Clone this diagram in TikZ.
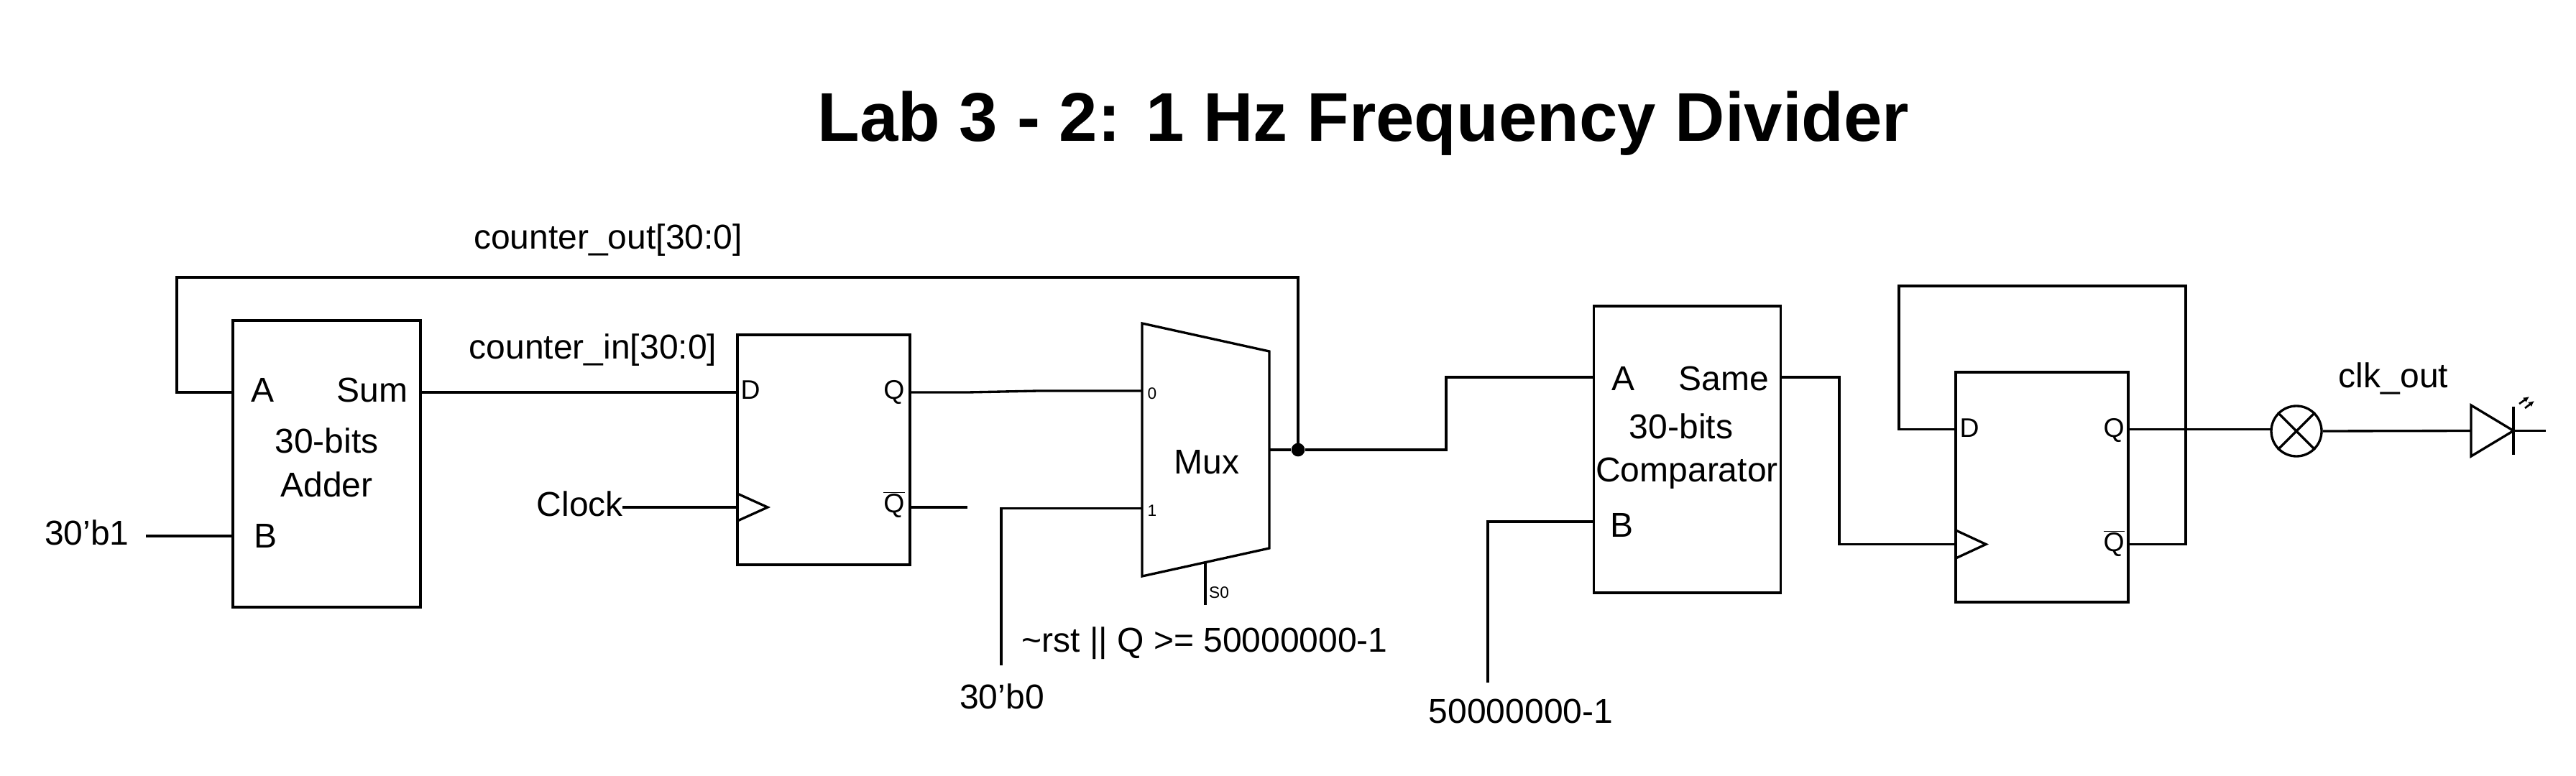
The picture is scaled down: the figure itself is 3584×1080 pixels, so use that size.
\documentclass[tikz,border=0pt]{standalone}
\usepackage{fontspec}
\setmainfont{Liberation Sans}
\usetikzlibrary{arrows.meta}

\tikzset{
	wire/.style={line width=2.5pt,line join=miter},
	blockbox/.style={draw,line width=2.5pt,inner sep=0pt},
	lbl/.style={anchor=base,inner sep=0pt,font=\fontsize{36}{40}\selectfont},
	pinlbl/.style={anchor=base,inner sep=0pt,font=\fontsize{28}{32}\selectfont},
	tinylbl/.style={anchor=base,inner sep=0pt,font=\fontsize{17}{20}\selectfont},
}

\begin{document}
\begin{tikzpicture}[x=0.75pt,y=0.75pt,yscale=-1,xscale=1]
	\useasboundingbox (0,0) rectangle (3584,1080);
	
	% Title
	\node (title) [anchor=base,inner sep=0pt,font=\fontsize{72}{80}\selectfont\bfseries] at (1897,197) {Lab 3 - 2: 1 Hz Frequency Divider};
	
	% Blocks
	\node (adder) [blockbox,minimum width=195.75pt,minimum height=299.25pt] at (454.5,645.5) {};
	\node (ffone) [blockbox,minimum width=180pt,minimum height=240pt] at (1146,626) {};
	\node (cmp) [blockbox,minimum width=194.6pt,minimum height=299.25pt] at (2347.5,625.5) {};
	\node (fftwo) [blockbox,minimum width=180pt,minimum height=240pt] at (2841,678) {};
	
	% Mux outline
	\coordinate (muxlt) at (1589,450);
	\coordinate (muxrt) at (1766,489);
	\coordinate (muxrb) at (1766,763);
	\coordinate (muxlb) at (1589,802);
	\draw [wire] (muxlt) -- (muxrt) -- (muxrb) -- (muxlb) -- cycle;
	
	% Pins
	\coordinate (adderA) at (adder.west |- 0,546);
	\coordinate (adderB) at (adder.west |- 0,746);
	\coordinate (adderSum) at (adder.east |- 0,546);
	\coordinate (ffoneD) at (ffone.west |- 0,546);
	\coordinate (ffoneClk) at (ffone.west |- 0,706);
	\coordinate (ffoneQ) at (ffone.east |- 0,546);
	\coordinate (ffoneQn) at (ffone.east |- 0,706);
	\coordinate (muxzero) at (1589,544);
	\coordinate (muxone) at (1589,707.5);
	\coordinate (muxout) at (1766,626);
	\coordinate (muxsel) at (1677,782);
	\coordinate (cmpA) at (cmp.west |- 0,525);
	\coordinate (cmpB) at (cmp.west |- 0,726);
	\coordinate (cmpSame) at (cmp.east |- 0,525);
	\coordinate (fftwoD) at (fftwo.west |- 0,597.5);
	\coordinate (fftwoClk) at (fftwo.west |- 0,757.5);
	\coordinate (fftwoQ) at (fftwo.east |- 0,597.5);
	\coordinate (fftwoQn) at (fftwo.east |- 0,757.5);
	
	% Free ends
	\coordinate (bitoneend) at (203,746);
	\coordinate (clockend) at (866,706);
	\coordinate (qnend) at (1346,706);
	\coordinate (qbend) at (1346,546);
	\coordinate (qbendtwo) at (1445,544);
	\coordinate (selend) at (1677,842);
	\coordinate (bitzeroend) at (1393,926);
	\coordinate (cmpconstend) at (2070,950);
	\coordinate (lampin) at (3160,597.5);
	
	% Junction and lamp
	\node (junct) [circle,fill,inner sep=0pt,minimum size=14pt] at (1806,626) {};
	\node (lamp) [circle,draw,line width=2.5pt,inner sep=0pt,minimum size=52.5pt] at (3195,600) {};
	\draw [line width=2.5pt] (lamp.45) -- (lamp.225);
	\draw [line width=2.5pt] (lamp.135) -- (lamp.315);
	
	% LED
	\coordinate (ledlt) at (3438,564);
	\coordinate (ledlb) at (3438,635);
	\coordinate (ledtip) at (3497,599.5);
	\coordinate (ledin) at (3438,599.5);
	\coordinate (ledbart) at (3497,566);
	\coordinate (ledbarb) at (3497,633);
	\coordinate (ledout) at (3542,599.5);
	\draw [wire] (ledlt) -- (ledtip) -- (ledlb) -- cycle;
	\draw [wire] (ledbart) -- (ledbarb);
	\draw [wire] (ledtip) -- (ledout);
	\coordinate (raya) at (3505,562);
	\coordinate (rayb) at (3519,552);
	\coordinate (rayc) at (3513,568);
	\coordinate (rayd) at (3526,558);
	\draw [line width=2pt,-{Latex[length=6pt,width=6pt]}] (raya) -- (rayb);
	\draw [line width=2pt,-{Latex[length=6pt,width=6pt]}] (rayc) -- (rayd);
	
	% Clock triangles
	\coordinate (tria) at (1026,687);
	\coordinate (trib) at (1068,706);
	\coordinate (tric) at (1026,725);
	\draw [wire] (tria) -- (trib) -- (tric);
	\coordinate (trid) at (2721,738);
	\coordinate (trie) at (2763,757.5);
	\coordinate (trif) at (2721,777);
	\draw [wire] (trid) -- (trie) -- (trif);
	
	% Connectors
	\draw [wire] (adderSum) -- (ffoneD);
	\draw [wire] (bitoneend) -- (adderB);
	\draw [wire] (clockend) -- (ffoneClk);
	\draw [wire] (ffoneQ) -- (qbend) -- (qbendtwo) -- (muxzero);
	\draw [wire] (ffoneQn) -- (qnend);
	\draw [wire] (bitzeroend) |- (muxone);
	\draw [wire] (muxsel) -- (selend);
	\draw [wire] (adderA) -| (246,386) -| (junct.center);
	\draw [wire] (muxout) -- (junct) -- (2012,626) |- (cmpA);
	\draw [wire] (cmpconstend) |- (cmpB);
	\draw [wire] (cmpSame) -- (2559,525) |- (fftwoClk);
	\draw [wire] (fftwoD) -| (2642,398) -| (3041,757.5) -- (fftwoQn);
	\draw [wire] (fftwoQ) -- (lampin);
	\draw [wire] (lamp.east) -- (ledin);
	
	% Text Node
	\node (lblcntout) [lbl] at (846,347) {counter\_out[30:0]};
	\node (lblcntin) [lbl] at (825,499) {counter\_in[30:0]};
	\node (lblbitone) [lbl] at (121,758) {30'b1};
	\node (lblclock) [lbl] at (807,718) {Clock};
	% Text Node
	\node (lbladdA) [lbl] at (366,559) {A};
	\node (lbladdSum) [lbl] at (518,559) {Sum};
	\node (lbladdbits) [lbl] at (454.5,630) {30-bits};
	\node (lbladdname) [lbl] at (454.5,691.5) {Adder};
	\node (lbladdB) [lbl] at (370,762) {B};
	% Text Node
	\node (lbloneD) [pinlbl] at (1044,555) {D};
	\node (lbloneQ) [pinlbl] at (1244,555) {Q};
	\node (lbloneQn) [pinlbl] at (1244,713) {$\overline{\mbox{Q}}$};
	% Text Node
	\node (lblmux) [lbl] at (1679,659) {Mux};
	\node (lblzero) [tinylbl] at (1603,555) {0};
	\node (lblone) [tinylbl] at (1603,718) {1};
	\node (lblsel) [tinylbl] at (1696,832) {S0};
	\node (lblrst) [lbl] at (1676,907) {\textasciitilde rst || Q >= 50000000-1};
	\node (lblbitzero) [lbl] at (1394,986.5) {30'b0};
	% Text Node
	\node (lblcmpA) [lbl] at (2258,543) {A};
	\node (lblcmpSame) [lbl] at (2398,543) {Same};
	\node (lblcmpbits) [lbl] at (2339,610) {30-bits};
	\node (lblcmpname) [lbl] at (2347,670.5) {Comparator};
	\node (lblcmpB) [lbl] at (2256,747) {B};
	\node (lblconst) [lbl] at (2116,1006) {50000000-1};
	% Text Node
	\node (lbltwoD) [pinlbl] at (2740,608) {D};
	\node (lbltwoQ) [pinlbl] at (2941,608) {Q};
	\node (lbltwoQn) [pinlbl] at (2941,767) {$\overline{\mbox{Q}}$};
	\node (lblclkout) [lbl] at (3330,539) {clk\_out};
\end{tikzpicture}
\end{document}
